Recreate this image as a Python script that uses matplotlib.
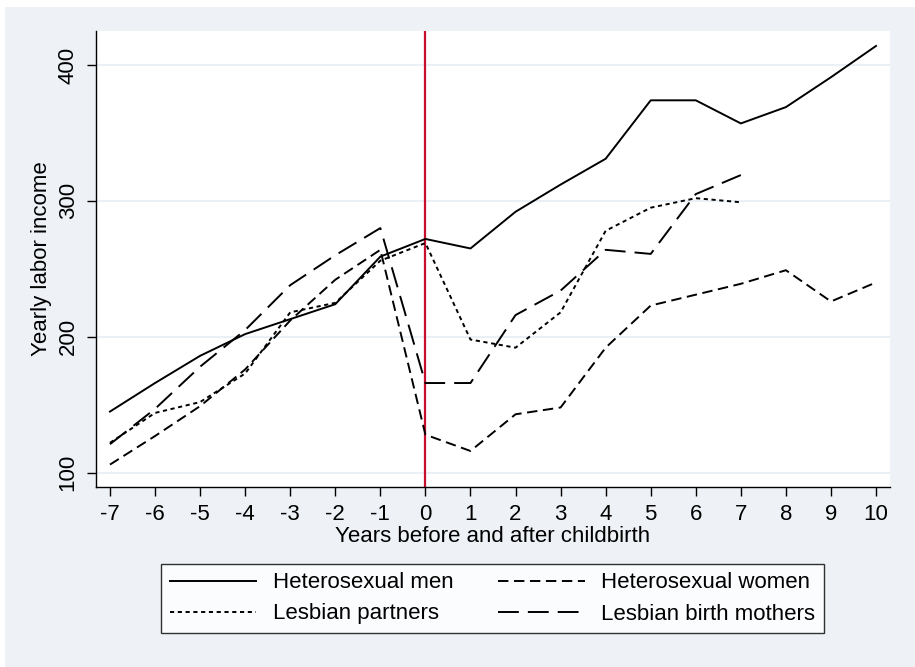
import matplotlib
matplotlib.use("Agg")
import matplotlib.pyplot as plt
from matplotlib.patches import Rectangle

plt.rcParams['font.family'] = ['Liberation Sans', 'DejaVu Sans']
plt.rcParams['lines.scale_dashes'] = False
plt.rcParams['axes.unicode_minus'] = False

# years relative to childbirth
years = [-7, -6, -5, -4, -3, -2, -1, 0, 1, 2, 3, 4, 5, 6, 7, 8, 9, 10]
years_lesbian = [-7, -6, -5, -4, -3, -2, -1, 0, 1, 2, 3, 4, 5, 6, 7]

het_men = [145, 166, 186, 202, 213, 224, 259, 272, 265, 292, 312, 331, 374, 374, 357, 369, 391, 414]
het_women = [106, 127, 149, 176, 212, 242, 264, 128, 116, 143, 148, 192, 223, 231, 239, 249, 226, 240]
les_partners = [122, 144, 152, 173, 218, 225, 256, 269, 198, 192, 218, 278, 295, 302, 299]
les_mothers = [121, 147, 178, 205, 238, 260, 280, 166, 166, 216, 234, 264, 261, 305, 319]

y_ticks = [100, 200, 300, 400]

W, H = 915, 667
bg = '#EEF1F6'
fs = 16

fig = plt.figure(figsize=(W / 100, H / 100), dpi=100, facecolor='white')
fig.patches.append(Rectangle((5 / W, 0), 1, 1 - 7 / H, transform=fig.transFigure,
                             facecolor=bg, edgecolor='none', zorder=-10))

ax = fig.add_axes([96 / W, 1 - 487 / H, (890 - 96) / W, (487 - 31) / H])
ax.set_facecolor('white')

ax.set_xlim(-7.31, 10.31)
ax.set_ylim(89.5, 425)

for v in y_ticks:
    ax.axhline(v, color='#EAF0F5', lw=1.5, zorder=0)

ax.axvline(0, color='#C8102E', lw=1.6, zorder=1)

lw = 1.4
l_men, = ax.plot(years, het_men, color='black', lw=lw, label='Heterosexual men')
l_women, = ax.plot(years, het_women, color='black', lw=lw,
                   linestyle=(0, (7.5, 4.0)), label='Heterosexual women')
l_part, = ax.plot(years_lesbian, les_partners, color='black', lw=lw,
                  linestyle=(0, (3.0, 2.6)), label='Lesbian partners')
l_moth, = ax.plot(years_lesbian, les_mothers, color='black', lw=lw,
                  linestyle=(0, (15.0, 6.5)), label='Lesbian birth mothers')

for s in ['top', 'right']:
    ax.spines[s].set_visible(False)
for s in ['left', 'bottom']:
    ax.spines[s].set_linewidth(1.0)
    ax.spines[s].set_color('black')

ax.set_xticks(years)
ax.set_yticks(y_ticks)
ax.tick_params(axis='both', length=6.5, width=1.0, labelsize=fs, direction='out')
ax.tick_params(axis='x', pad=6)
ax.tick_params(axis='y', pad=6)
for lab in ax.get_yticklabels():
    lab.set_rotation(90)
    lab.set_va('center')

ax.set_xlabel('Years before and after childbirth', fontsize=fs, va='center')
ax.xaxis.set_label_coords(0.5, (487 - 537) / (487 - 31))
ax.set_ylabel('Yearly labor income', fontsize=fs, va='center')
ax.yaxis.set_label_coords((42 - 96) / (890 - 96), 0.5)

leg = fig.legend([l_men, l_part, l_women, l_moth],
                 ['Heterosexual men', 'Lesbian partners', 'Heterosexual women', 'Lesbian birth mothers'],
                 ncol=2, loc='center', bbox_to_anchor=(492.5 / W, 1 - 598.5 / H),
                 fontsize=fs, frameon=True, fancybox=False, handlelength=3.9,
                 handletextpad=0.75, columnspacing=2.0, borderpad=0.4, labelspacing=0.45)
leg.get_frame().set_edgecolor('black')
leg.get_frame().set_linewidth(1.0)
leg.get_frame().set_facecolor('white')

fig.savefig('out.png', dpi=100, facecolor=fig.get_facecolor())
